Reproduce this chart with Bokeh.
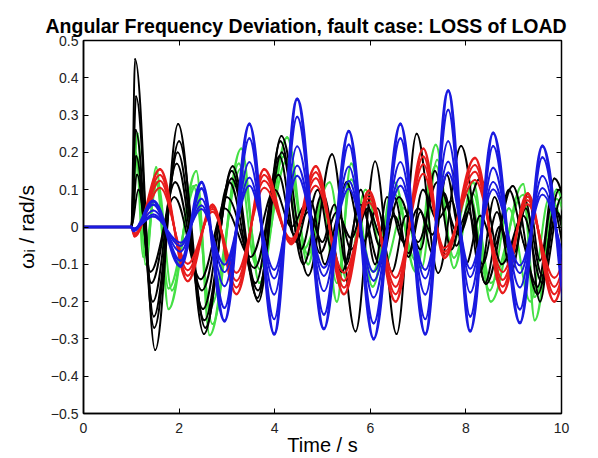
from bokeh.plotting import figure
from bokeh.models import (ColumnDataSource, FixedTicker, LinearAxis, Range1d,
                          CustomJSTickFormatter)
from bokeh.embed import file_html
from bokeh.resources import INLINE

# ---------------- data (extrema) ----------------
x_ticks = [0, 2, 4, 6, 8, 10]
y_ticks = [-0.5, -0.4, -0.3, -0.2, -0.1, 0, 0.1, 0.2, 0.3, 0.4, 0.5]

blue_t = [0, 1.0, 1.05, 1.46, 2.03, 2.47, 2.95, 3.47, 3.99, 4.47, 5.03, 5.55, 6.07,
          6.63, 7.15, 7.63, 8.09, 8.57, 9.13, 9.6, 10.1]
blue_v = [0, 0, -0.01, 0.07, -0.105, 0.12, -0.252, 0.276, -0.287, 0.343, -0.273, 0.257,
          -0.3, 0.276, -0.287, 0.365, -0.279, 0.252, -0.257, 0.217, -0.27]
blue_scales = [1.0, 0.86, 0.63, 0.48, 0.4]

red_t = [0, 1.0, 1.07, 1.6, 2.18, 2.7, 3.2, 3.78, 4.35, 4.86, 5.45, 5.97, 6.53, 7.11,
         7.55, 8.19, 8.77, 9.29, 9.85, 10.3]
red_v = [0, 0, -0.025, 0.155, -0.145, 0.06, -0.18, 0.155, -0.046, 0.163, -0.18, 0.097,
         -0.2, 0.21, -0.083, 0.185, -0.177, 0.09, -0.2, 0.1]
red_scales = [1.0, 0.9, 0.8, 0.68]

green1_t = [0, 1.0, 1.13, 1.3, 1.52, 1.78, 2.36, 2.64, 3.3, 3.68, 4.26, 4.7, 5.0, 5.3,
            5.6, 6.05, 6.5, 6.95, 7.37, 7.75, 8.15, 8.52, 9.2, 9.44, 9.9, 10.2]
green1_v = [0, 0, 0.25, -0.1, 0.16, -0.22, 0.15, -0.29, 0.21, -0.15, 0.24, -0.1, 0.08,
            -0.2, 0.17, -0.16, 0.12, -0.12, 0.22, -0.11, 0.12, -0.2, 0.115, -0.25, 0.1, -0.05]
green1_scales = [1.0, 0.75]

green2_t = [0, 1.0, 1.1, 1.25, 1.55, 1.85, 2.3, 2.7, 3.25, 3.6, 4.2, 4.6, 5.15, 5.5,
            5.9, 6.3, 6.7, 7.07, 7.4, 7.7, 8.05, 8.5, 8.9, 9.35, 9.75, 10.2]
green2_v = [0, 0, 0.2, -0.08, 0.12, -0.17, 0.11, -0.26, 0.17, -0.1, 0.19, -0.06, 0.12,
            -0.14, 0.1, -0.1, 0.05, -0.11, 0.18, -0.06, 0.1, -0.17, 0.05, -0.2, 0.08, -0.08]

black1_t = [0, 1.0, 1.08, 1.5, 1.98, 2.52, 3.12, 3.66, 4.14, 4.7, 5.2, 5.69, 6.1, 6.55,
            6.97, 7.42, 7.9, 8.42, 8.98, 9.5, 9.95, 10.3]
black1_v = [0, 0, 0.45, -0.33, 0.276, -0.287, 0.163, -0.2, 0.244, -0.13, 0.195, -0.28,
            0.176, -0.287, 0.25, -0.123, 0.217, -0.153, 0.11, -0.18, 0.1, -0.1]

black2_t = [0, 1.0, 1.1, 1.47, 2.0, 2.55, 3.1, 3.64, 4.12, 4.6, 5.0, 5.4, 5.8, 6.2, 6.6,
            7.0, 7.4, 7.85, 8.3, 8.75, 9.2, 9.6, 10.0, 10.3]
black2_v = [0, 0, 0.35, -0.24, 0.23, -0.27, 0.15, -0.19, 0.23, -0.1, 0.09, -0.12, 0.06,
            -0.1, 0.08, -0.04, 0.12, -0.02, 0.13, -0.1, 0.03, -0.15, 0.08, 0.0]

black3_t = [0, 1.0, 1.1, 1.45, 1.95, 2.5, 3.05, 3.6, 4.1, 4.45, 4.75, 5.05, 5.35, 5.6,
            5.95, 6.25, 6.5, 6.8, 7.05, 7.3, 7.6, 7.85, 8.1, 8.4, 8.7, 9.0, 9.3, 9.55, 9.85, 10.2]
black3_v = [0, 0, 0.19, -0.2, 0.17, -0.22, 0.12, -0.15, 0.19, -0.04, 0.07, -0.1, 0.03,
            -0.06, 0.05, -0.03, 0.08, -0.08, 0.04, -0.07, 0.14, 0.0, 0.07, -0.15, 0.0,
            -0.07, 0.09, -0.09, 0.13, 0.0]

black4_t = [0, 1.0, 1.12, 1.42, 1.92, 2.48, 3.0, 3.58, 4.08, 4.4, 4.7, 5.0, 5.25, 5.5,
            5.8, 6.1, 6.35, 6.7, 7.0, 7.3, 7.55, 7.8, 8.05, 8.35, 8.65, 8.95, 9.25, 9.6, 9.9, 10.2]
black4_v = [0, 0, 0.14, -0.15, 0.12, -0.17, 0.08, -0.11, 0.14, -0.02, 0.04, -0.04, 0.06,
            -0.1, 0.1, -0.1, 0.08, -0.04, 0.05, -0.02, 0.09, -0.05, 0.04, -0.1, 0.04,
            -0.12, 0.05, -0.13, 0.04, -0.08]

black5_t = [0, 1.0, 1.15, 1.4, 1.9, 2.45, 2.95, 3.5, 4.0, 4.35, 4.65, 4.95, 5.3, 5.6,
            5.9, 6.2, 6.5, 6.8, 7.1, 7.4, 7.7, 8.0, 8.3, 8.6, 8.9, 9.2, 9.5, 9.8, 10.1]
black5_v = [0, 0, 0.1, -0.12, 0.08, -0.14, 0.05, -0.08, 0.1, 0.0, 0.06, -0.07, 0.04,
            -0.03, 0.07, -0.05, 0.03, -0.07, 0.1, 0.02, 0.07, -0.1, 0.03, -0.05, 0.1,
            -0.04, -0.16, 0.06, -0.1]

black6_t = [0, 1.0, 1.09, 1.48, 1.97, 2.53, 3.1, 3.65, 4.15, 4.55, 4.9, 5.2, 5.5, 5.85,
            6.15, 6.45, 6.75, 7.05, 7.35, 7.7, 8.0, 8.3, 8.6, 8.9, 9.25, 9.55, 9.85, 10.2]
black6_v = [0, 0, 0.26, -0.27, 0.2, -0.25, 0.13, -0.17, 0.2, -0.06, 0.1, -0.06, 0.12,
            -0.04, 0.05, -0.12, 0.03, -0.06, 0.15, -0.06, 0.09, -0.12, 0.08, -0.06, 0.07,
            -0.2, 0.05, -0.12]

FONT = "Liberation Sans"


def smooth_segments(ts, vs, k=0.36):
    """Cubic Bezier segments through the given points (monotone tangents)."""
    n = len(ts)
    d = [(vs[i + 1] - vs[i]) / (ts[i + 1] - ts[i]) for i in range(n - 1)]
    m = [0.0] * n
    m[0], m[-1] = d[0], d[-1]
    for i in range(1, n - 1):
        if d[i - 1] * d[i] <= 0:
            m[i] = 0.0
        else:
            m[i] = 2.0 / (1.0 / d[i - 1] + 1.0 / d[i])
    seg = dict(x0=[], y0=[], x1=[], y1=[], cx0=[], cy0=[], cx1=[], cy1=[])
    for i in range(n - 1):
        h = ts[i + 1] - ts[i]
        seg["x0"].append(ts[i]); seg["y0"].append(vs[i])
        seg["x1"].append(ts[i + 1]); seg["y1"].append(vs[i + 1])
        seg["cx0"].append(ts[i] + k * h); seg["cy0"].append(vs[i] + m[i] * k * h)
        seg["cx1"].append(ts[i + 1] - k * h); seg["cy1"].append(vs[i + 1] - m[i + 1] * k * h)
    return ColumnDataSource(seg)


p = figure(width=580, height=458, x_range=Range1d(0, 10), y_range=Range1d(-0.5, 0.5),
           output_backend="svg", toolbar_location=None,
           min_border_left=83, min_border_right=19, min_border_top=40, min_border_bottom=44,
           background_fill_color="white", border_fill_color="white")

p.title.text = "Angular Frequency Deviation, fault case: LOSS of LOAD"
p.title.text_font = FONT
p.title.text_font_size = "19.5px"
p.title.text_font_style = "bold"
p.title.text_color = "black"
p.title.align = "left"
p.title.offset = -38
p.title.standoff = 8

p.xgrid.visible = False
p.ygrid.visible = False
p.outline_line_color = "black"
p.outline_line_width = 1.5
p.outline_line_alpha = 1.0


def draw(ts, vs, scales, color, widths):
    for s, w in zip(scales, widths):
        p.bezier(x0="x0", y0="y0", x1="x1", y1="y1", cx0="cx0", cy0="cy0",
                 cx1="cx1", cy1="cy1", source=smooth_segments(ts, [v * s for v in vs]),
                 line_color=color, line_width=w, line_cap="round")


GREEN = "#45e045"
draw(green1_t, green1_v, green1_scales, GREEN, [2.3, 2.0])
draw(green2_t, green2_v, [1.0], GREEN, [2.0])

BLACK = "#000000"
for bt, bv in [(black6_t, black6_v), (black5_t, black5_v), (black4_t, black4_v),
               (black3_t, black3_v), (black2_t, black2_v), (black1_t, black1_v)]:
    draw(bt, bv, [1.0], BLACK, [1.9])

draw(red_t, red_v, red_scales, "#e81c1c", [2.4, 2.0, 2.0, 2.0])
draw(blue_t, blue_v, blue_scales[::-1], "#1a1ae0", [1.9, 1.9, 1.9, 2.3, 3.0])

# axes
for ax in (p.xaxis[0], p.yaxis[0]):
    ax.major_tick_in = 5
    ax.major_tick_out = 0
    ax.minor_tick_in = 0
    ax.minor_tick_out = 0
    ax.axis_line_width = 1.5
    ax.axis_line_color = "black"
    ax.major_tick_line_color = "black"
    ax.major_label_text_font = FONT
    ax.major_label_text_font_size = "14px"
    ax.major_label_text_color = "#222222"
    ax.axis_label_text_font = FONT
    ax.axis_label_text_font_size = "20px"
    ax.axis_label_text_font_style = "normal"
    ax.axis_label_text_color = "black"

p.xaxis[0].ticker = FixedTicker(ticks=x_ticks)
p.yaxis[0].ticker = FixedTicker(ticks=y_ticks)
p.yaxis[0].major_label_overrides = {
    t: ("0" if t == 0 else f"{t:.1f}".replace("-", "\u2212")) for t in y_ticks}
p.xaxis[0].axis_label = "Time / s"
p.yaxis[0].axis_label = "\u03c9\u1d62 / rad/s"
p.yaxis[0].axis_label_text_font_size = "21px"
p.xaxis[0].major_label_standoff = 9
p.xaxis[0].axis_label_standoff = -2
p.yaxis[0].major_label_standoff = 5
p.yaxis[0].axis_label_standoff = 10

blank = CustomJSTickFormatter(code="return ''")
top = LinearAxis(ticker=FixedTicker(ticks=x_ticks), formatter=blank,
                 major_tick_in=5, major_tick_out=0, minor_tick_in=0, minor_tick_out=0,
                 axis_line_color=None, major_label_standoff=0)
right = LinearAxis(ticker=FixedTicker(ticks=y_ticks), formatter=blank,
                   major_tick_in=5, major_tick_out=0, minor_tick_in=0, minor_tick_out=0,
                   axis_line_color=None, major_label_standoff=0)
p.add_layout(top, "above")
p.add_layout(right, "right")

open("out.html", "w").write(file_html(p, INLINE))
